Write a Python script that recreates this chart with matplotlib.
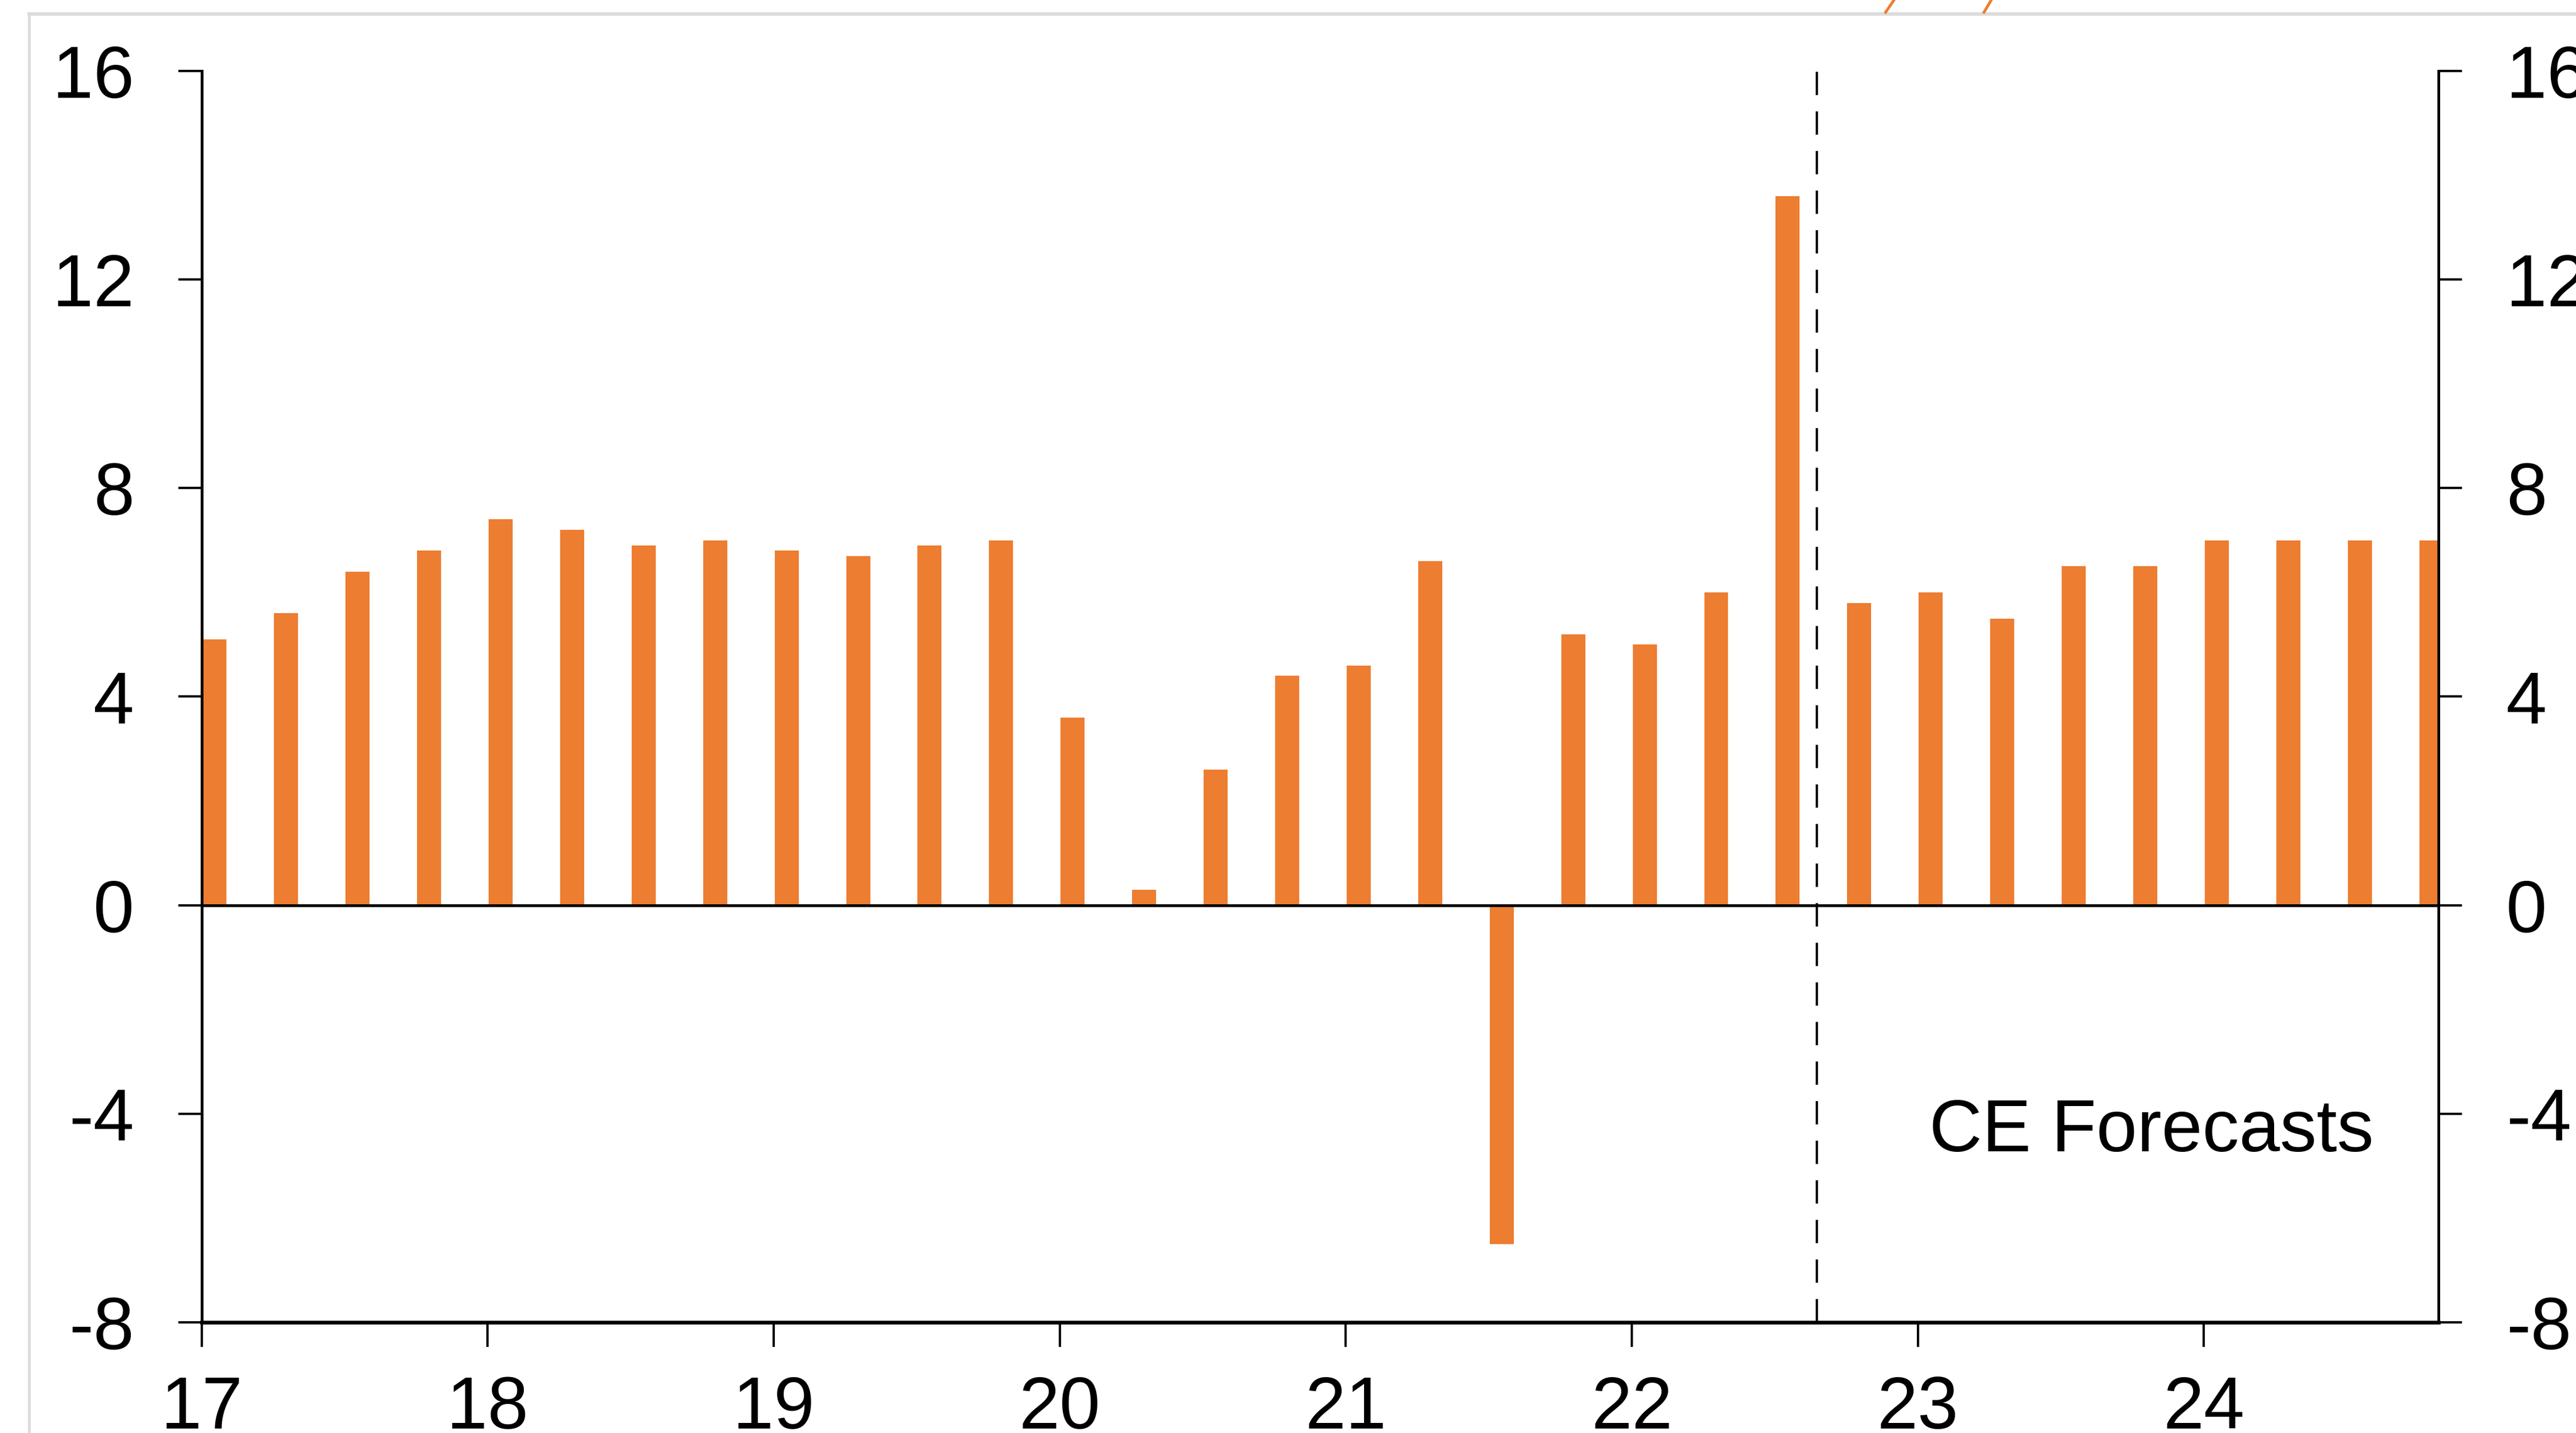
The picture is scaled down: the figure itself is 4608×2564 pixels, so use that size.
import matplotlib.pyplot as plt
from matplotlib.lines import Line2D
import numpy as np

plt.rcParams['font.family'] = ['Liberation Sans', 'DejaVu Sans']
plt.rcParams['axes.unicode_minus'] = False

# quarterly y/y growth, 2017 Q1 .. 2024 Q4 (last 9 are forecasts)
quarters = [f"{y}Q{q}" for y in range(2017, 2025) for q in range(1, 5)]
growth = [
    5.1, 5.6, 6.4, 6.8,
    7.4, 7.2, 6.9, 7.0,
    6.8, 6.7, 6.9, 7.0,
    3.6, 0.3, 2.6, 4.4,
    4.6, 6.6, -6.5, 5.2,
    5.0, 6.0, 13.6, 5.8,
    6.0, 5.5, 6.5, 6.5,
    7.0, 7.0, 7.0, 7.0,
]
year_ticks = [17, 18, 19, 20, 21, 22, 23, 24]
y_ticks = [-8, -4, 0, 4, 8, 12, 16]
forecast_start = 22.647

# x position of each bar, in years since 2000
x = np.array([int(q[2:4]) + (int(q[-1]) - 1) * 0.25 + 0.045 for q in quarters])

fig = plt.figure(figsize=(15.36, 8.5467), dpi=300)
ax = fig.add_axes([0.0783, 0.0772, 0.8683, 0.8733])

ax.bar(x, growth, width=0.084, color='#ED7D31', zorder=2)
ax.axhline(0, color='black', lw=1.2, zorder=3)
ax.axvline(forecast_start, ymin=0, ymax=1.01, color='black', lw=1.0,
           linestyle=(0, (10, 7)), clip_on=False, zorder=3)

ax.set_xlim(17, 24.82)
ax.set_ylim(-8, 16)
ax.set_xticks(year_ticks)
ax.set_xticklabels([str(t) for t in year_ticks])
ax.set_yticks(y_ticks)

ax.spines['top'].set_visible(False)
ax.spines['left'].set_linewidth(1.2)
ax.spines['right'].set_linewidth(1.2)
ax.spines['bottom'].set_linewidth(1.6)

ax.tick_params(axis='y', which='both', direction='out', length=10, width=1.0,
               labelsize=31.5, pad=19, left=True, right=True,
               labelleft=True, labelright=True)
ax.tick_params(axis='x', direction='out', length=10.5, width=1.0,
               labelsize=31.5, pad=12)

ax.text(24.593, -4.72, 'CE Forecasts', fontsize=31.5, ha='right',
        va='baseline', zorder=4)

# light frame of the surrounding panel and remnants of the chart above
fig.add_artist(Line2D([52 / 4608, 1], [1 - 25 / 2564] * 2, color='#dcdcdc', lw=1.5))
fig.add_artist(Line2D([52 / 4608] * 2, [0, 1 - 25 / 2564], color='#dcdcdc', lw=1.2))
fig.add_artist(Line2D([3388 / 4608, 3373 / 4608], [1, 1 - 22 / 2564], color='#ED7D31', lw=1.2))
fig.add_artist(Line2D([3562 / 4608, 3549 / 4608], [1, 1 - 22 / 2564], color='#ED7D31', lw=1.2))

fig.savefig('out.png', dpi=300)
